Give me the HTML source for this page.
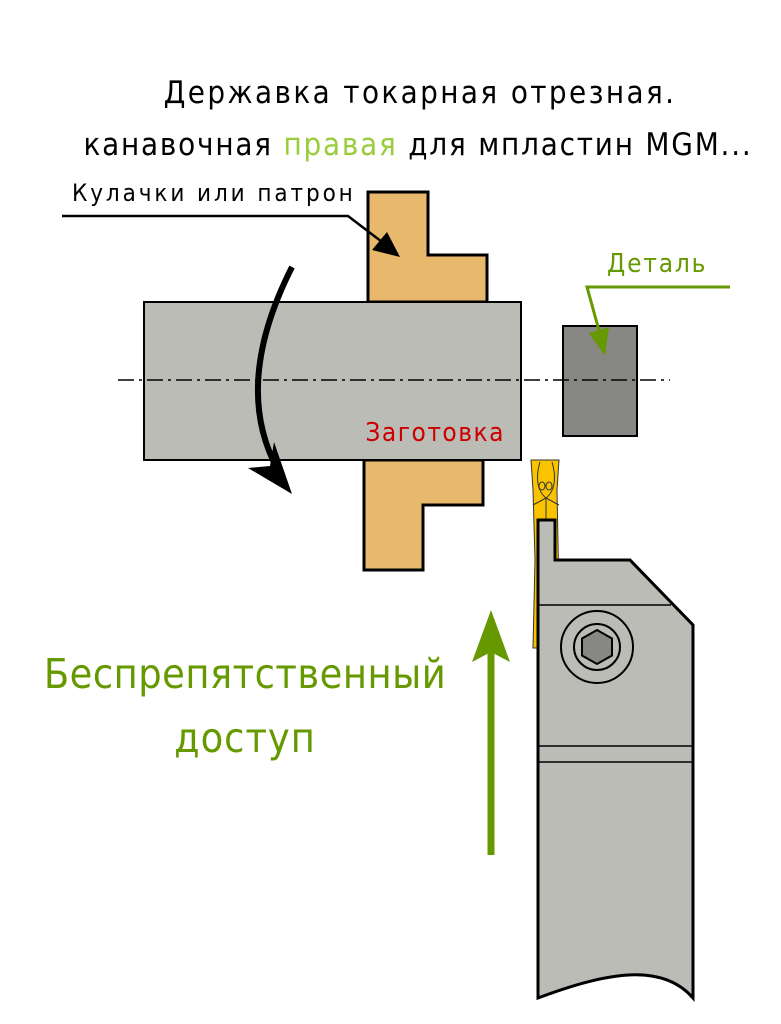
<!DOCTYPE html>
<html><head><meta charset="utf-8"><style>
html,body{margin:0;padding:0;background:#fff;}
svg{display:block;}
text{font-family:"DejaVu Sans Condensed","Liberation Sans",sans-serif;font-weight:300;}
</style></head><body>
<svg width="781" height="1024" viewBox="0 0 781 1024" xmlns="http://www.w3.org/2000/svg">
<text x="420" y="103" font-size="31" text-anchor="middle" fill="#000" letter-spacing="2.4">Державка токарная отрезная.</text>
<text x="418" y="155" font-size="31" text-anchor="middle" fill="#000" letter-spacing="1.8">канавочная <tspan fill="#9acd3c">правая</tspan> для мпластин MGM...</text>

<polygon points="368,192 428,192 428,255 487,255 487,302 368,302" fill="#e8b96d" stroke="#000" stroke-width="3"/>
<polygon points="364,460 483,460 483,505 423,505 423,570 364,570" fill="#e8b96d" stroke="#000" stroke-width="3"/>
<rect x="144" y="302" width="377" height="158" fill="#babcb5" stroke="#000" stroke-width="2"/>
<rect x="563" y="326" width="74" height="110" fill="#878884" stroke="#000" stroke-width="2"/>
<line x1="118" y1="380" x2="670" y2="380" stroke="#000" stroke-width="1.5" stroke-dasharray="16,5,3,5"/>
<text x="505" y="441" font-size="26" text-anchor="end" fill="#cc0000" letter-spacing="1.5">Заготовка</text>

<text x="72" y="201" font-size="24" fill="#000" letter-spacing="2.9">Кулачки или патрон</text>
<polyline points="62,216 348,216 390,248" fill="none" stroke="#000" stroke-width="2.5"/>
<polygon points="400,257 372,250 387,232" fill="#000"/>

<text x="607" y="272" font-size="26" fill="#669900" letter-spacing="1.8">Деталь</text>
<polyline points="730,287 587,287 603,345" fill="none" stroke="#669900" stroke-width="3"/>
<polygon points="605,356 589,333 609,327" fill="#669900"/>

<path d="M292,267 C255,340 245,410 278,470" fill="none" stroke="#000" stroke-width="6"/>
<polygon points="292,494 248,468 270,466 274,442" fill="#000"/>

<polygon points="531,460 559,460 557,490 560,648 533,648 535,560 533,490" fill="#f9c300" stroke="#333" stroke-width="1"/>
<path d="M540,462 C536,475 536,490 546,498 C556,490 556,475 552,462" fill="none" stroke="#333" stroke-width="1"/>
<ellipse cx="542" cy="486" rx="3" ry="4" fill="none" stroke="#333" stroke-width="1"/>
<ellipse cx="549" cy="486" rx="3" ry="4" fill="none" stroke="#333" stroke-width="1"/>
<path d="M533,505 L546,498 L559,505 M546,498 L546,520" fill="none" stroke="#333" stroke-width="1"/>

<path d="M538,520 L555,520 L555,560 L630,560 L693,625 L693,998 C660,960 600,975 538,998 Z" fill="#babcb5" stroke="#000" stroke-width="3"/>
<line x1="538" y1="605" x2="671" y2="605" stroke="#000" stroke-width="1.5"/>
<line x1="538" y1="746" x2="693" y2="746" stroke="#000" stroke-width="1.5"/>
<line x1="538" y1="762" x2="693" y2="762" stroke="#000" stroke-width="1.5"/>
<circle cx="597" cy="647" r="36" fill="none" stroke="#000" stroke-width="2"/>
<circle cx="597" cy="647" r="23" fill="none" stroke="#000" stroke-width="2"/>
<polygon points="597,630 612,638.5 612,655.5 597,664 582,655.5 582,638.5" fill="#878884" stroke="#000" stroke-width="2"/>

<line x1="491" y1="855" x2="491" y2="650" stroke="#669900" stroke-width="7"/>
<polygon points="491,610 510,662 491,652 472,662" fill="#669900"/>
<text x="245" y="688" font-size="41" text-anchor="middle" fill="#669900" letter-spacing="0.5">Беспрепятственный</text>
<text x="245" y="752" font-size="41" text-anchor="middle" fill="#669900" letter-spacing="1">доступ</text>
</svg>
</body></html>
